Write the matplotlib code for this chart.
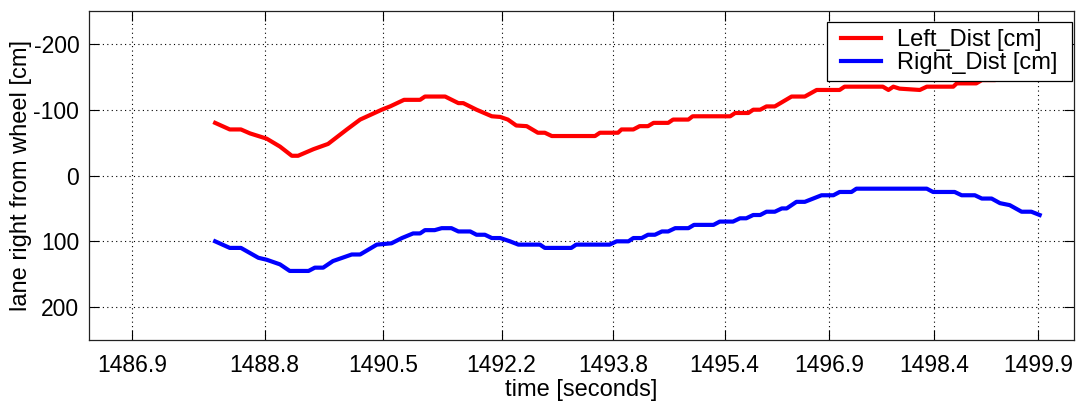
import matplotlib
matplotlib.use("Agg")
import matplotlib.pyplot as plt
from matplotlib.path import Path

plt.rcParams['font.family'] = ['Liberation Sans', 'DejaVu Sans']
plt.rcParams['axes.unicode_minus'] = False

# lane distance samples (time in s, distance in cm)
left_t = [1488.09, 1488.30, 1488.46, 1488.59, 1488.83, 1489.02, 1489.19, 1489.28,
          1489.50, 1489.71, 1489.98, 1490.17, 1490.48, 1490.60, 1490.80, 1491.03,
          1491.10, 1491.39, 1491.58, 1491.65, 1491.84, 1492.06, 1492.18, 1492.29,
          1492.41, 1492.56, 1492.72, 1492.82, 1492.92, 1493.54, 1493.61, 1493.87,
          1493.92, 1494.09, 1494.18, 1494.30, 1494.38, 1494.59, 1494.66, 1494.88,
          1494.94, 1495.48, 1495.55, 1495.74, 1495.81, 1495.91, 1496.00, 1496.12,
          1496.36, 1496.55, 1496.72, 1497.05, 1497.12, 1497.67, 1497.75, 1497.82,
          1497.91, 1498.20, 1498.30, 1498.68, 1498.73, 1499.01, 1499.09, 1499.28,
          1499.45, 1499.94]
left_d = [-80, -70, -70, -64, -56, -44, -30, -30,
          -40, -48, -70, -85, -100, -105, -115, -115,
          -120, -120, -110, -110, -100, -90, -89, -85,
          -76, -75, -65, -65, -60, -60, -65, -65,
          -70, -70, -75, -75, -80, -80, -85, -85,
          -90, -90, -95, -95, -100, -100, -105, -105,
          -120, -120, -130, -130, -135, -135, -130, -135,
          -132, -130, -135, -135, -140, -140, -145, -145,
          -150, -150]

right_t = [1488.09, 1488.30, 1488.46, 1488.71, 1488.83, 1489.02, 1489.16, 1489.43,
           1489.52, 1489.64, 1489.78, 1490.05, 1490.17, 1490.41, 1490.62, 1490.77,
           1490.93, 1491.03, 1491.10, 1491.24, 1491.34, 1491.48, 1491.58, 1491.75,
           1491.84, 1491.96, 1492.06, 1492.18, 1492.32, 1492.44, 1492.75, 1492.82,
           1493.20, 1493.27, 1493.75, 1493.85, 1494.02, 1494.09, 1494.21, 1494.30,
           1494.40, 1494.50, 1494.59, 1494.69, 1494.88, 1494.96, 1495.24, 1495.33,
           1495.52, 1495.62, 1495.71, 1495.81, 1495.91, 1496.00, 1496.12, 1496.22,
           1496.29, 1496.43, 1496.55, 1496.67, 1496.79, 1496.96, 1497.05, 1497.22,
           1497.29, 1498.30, 1498.39, 1498.70, 1498.80, 1498.99, 1499.09, 1499.23,
           1499.35, 1499.49, 1499.66, 1499.80, 1499.92]
right_d = [100, 110, 110, 125, 128, 135, 145, 145,
           140, 140, 130, 120, 120, 105, 103, 95,
           88, 88, 83, 83, 80, 80, 85, 85,
           90, 90, 95, 95, 100, 105, 105, 110,
           110, 105, 105, 100, 100, 95, 95, 90,
           90, 85, 85, 80, 80, 75, 75, 70,
           70, 65, 65, 60, 60, 55, 55, 50,
           50, 40, 40, 35, 30, 30, 25, 25,
           20, 20, 25, 25, 30, 30, 35, 35,
           42, 45, 55, 55, 60]

x_ticks = [1486.9, 1488.8, 1490.5, 1492.2, 1493.8, 1495.4, 1496.9, 1498.4, 1499.9]
y_ticks = [-200, -100, 0, 100, 200]


class WideSquare:
    """Square legend frame with extra horizontal padding."""
    def __init__(self, xpad):
        self.xpad = xpad

    def __call__(self, x0, y0, width, height, mutation_size):
        dx = self.xpad * mutation_size
        x1, y1 = x0 + width + dx, y0 + height
        x0 = x0 - dx
        return Path([(x0, y0), (x1, y0), (x1, y1), (x0, y1), (x0, y0)], closed=True)


fig = plt.figure(figsize=(10.76, 4.01), dpi=100)
ax = fig.add_axes([0.0827, 0.152, 0.9153, 0.8206])

ax.plot(left_t, left_d, color='#ff0000', lw=3, label='Left_Dist [cm]')
ax.plot(right_t, right_d, color='#0000ff', lw=3, label='Right_Dist [cm]')

ax.set_xlim(1486.28, 1500.41)
ax.set_ylim(250, -250)
ax.set_xticks(x_ticks)
ax.set_xticklabels([f"{v:.1f}" for v in x_ticks])
ax.set_yticks(y_ticks)

ax.grid(True, color='black', linestyle=(0, (1, 3)), linewidth=0.8)
ax.tick_params(direction='in', length=7, width=0.8, top=True, right=True,
               labelsize=16.5, colors='black')
ax.tick_params(axis='x', pad=10)
ax.tick_params(axis='y', pad=7)
for s in ax.spines.values():
    s.set_linewidth(0.9)
    s.set_color('#222222')

ax.set_xlabel('time [seconds]', fontsize=17, labelpad=1.5)
ax.set_ylabel('lane right from wheel [cm]', fontsize=17, labelpad=1)

leg = ax.legend(loc='upper right', bbox_to_anchor=(0.9909, 0.9675), borderaxespad=0,
                fontsize=17, fancybox=False, framealpha=1, edgecolor='black',
                handlelength=1.7, labelspacing=0.05, borderpad=0.3, handletextpad=0.7)
leg.get_frame().set_boxstyle(WideSquare(0.3))
leg.get_frame().set_linewidth(0.9)

fig.savefig('out.png', dpi=100)
